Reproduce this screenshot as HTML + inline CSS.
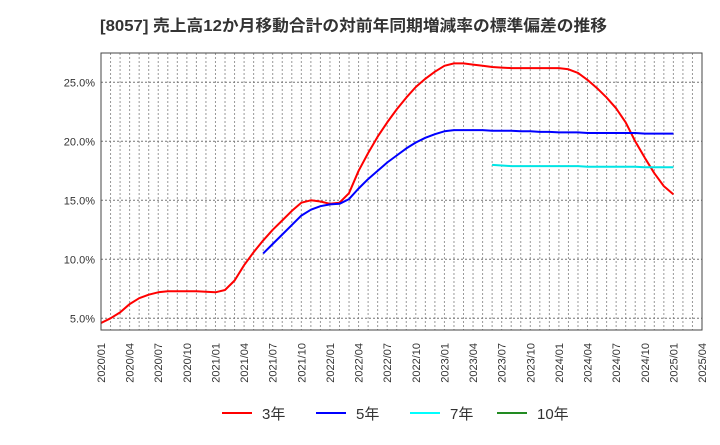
<!DOCTYPE html>
<html><head><meta charset="utf-8"><style>
body{margin:0;background:#fff;}
svg text{font-family:"Liberation Sans","Noto Sans CJK JP",sans-serif;}
</style></head><body>
<svg id="chart" width="720" height="440" xmlns="http://www.w3.org/2000/svg">
<text x="100" y="31" font-size="16" font-weight="bold" fill="#333" textLength="507" lengthAdjust="spacingAndGlyphs">[8057]  売上高12か月移動合計の対前年同期増減率の標準偏差の推移</text>
<g id="grid"></g>
<g id="series"></g>
<rect x="101" y="53" width="601" height="277" fill="none" stroke="#444" stroke-width="1"/>
<g id="yaxis"></g>
<g id="xaxis"></g>
<g id="legend"></g>
</svg>
<script>
const xTickLabels = ["2020/01","2020/04","2020/07","2020/10","2021/01","2021/04","2021/07","2021/10","2022/01","2022/04","2022/07","2022/10","2023/01","2023/04","2023/07","2023/10","2024/01","2024/04","2024/07","2024/10","2025/01","2025/04"];
const yTicks = [5,10,15,20,25];
const yTickLabels = ["5.0%","10.0%","15.0%","20.0%","25.0%"];
const series3 = [4.6,5.0,5.5,6.2,6.7,7.0,7.2,7.3,7.3,7.3,7.3,7.25,7.2,7.4,8.2,9.5,10.6,11.6,12.5,13.3,14.1,14.8,15.0,14.9,14.7,14.8,15.6,17.5,19.0,20.4,21.6,22.7,23.7,24.6,25.3,25.9,26.4,26.6,26.6,26.5,26.4,26.3,26.25,26.2,26.2,26.2,26.2,26.2,26.2,26.1,25.8,25.2,24.5,23.7,22.8,21.6,20.0,18.6,17.3,16.2,15.5];
const series5 = [null,null,null,null,null,null,null,null,null,null,null,null,null,null,null,null,null,10.5,11.3,12.1,12.9,13.7,14.2,14.5,14.65,14.7,15.1,16.0,16.8,17.5,18.2,18.8,19.4,19.9,20.3,20.6,20.85,20.95,20.95,20.95,20.95,20.9,20.9,20.9,20.85,20.85,20.8,20.8,20.75,20.75,20.75,20.7,20.7,20.7,20.7,20.7,20.7,20.65,20.65,20.65,20.65];
const series7 = [null,null,null,null,null,null,null,null,null,null,null,null,null,null,null,null,null,null,null,null,null,null,null,null,null,null,null,null,null,null,null,null,null,null,null,null,null,null,null,null,null,18.0,17.95,17.9,17.9,17.9,17.9,17.9,17.9,17.9,17.9,17.85,17.85,17.85,17.85,17.85,17.85,17.8,17.8,17.8,17.8];
const series10 = [];
const NS="http://www.w3.org/2000/svg";
const X0=101,X1=702,Y0=53,Y1=330,NM=63;
const xs=m=>X0+(X1-X0)*m/NM;
const ys=v=>377.3-v*11.8;
function mk(t,a,p){const e=document.createElementNS(NS,t);for(const k in a)e.setAttribute(k,a[k]);p.appendChild(e);return e;}
const grid=document.getElementById('grid');
for(let m=1;m<NM;m++){const l=mk('line',{x1:xs(m),x2:xs(m),y1:Y0,y2:Y1,stroke:'#999','stroke-dasharray':'2,2','stroke-width':1},grid);

}
yTicks.forEach(v=>{const l=mk('line',{x1:X0,x2:X1,y1:ys(v),y2:ys(v),stroke:'#777','stroke-dasharray':'2,2','stroke-width':1},grid);

});
const ya=document.getElementById('yaxis');
yTicks.forEach((v,i)=>{const t=mk('text',{x:95,y:ys(v)+4,'text-anchor':'end','font-size':11,fill:'#333'},ya);t.textContent=yTickLabels[i];

});
const xa=document.getElementById('xaxis');
xTickLabels.forEach((s,i)=>{const x=xs(i*3);const t=mk('text',{x:0,y:0,transform:`translate(${x+4},343) rotate(-90)`,'text-anchor':'end','font-size':11,fill:'#333'},xa);t.textContent=s;

});
const sg=document.getElementById('series');
function draw(arr,color,name){let d='';let pen=false;arr.forEach((v,i)=>{if(v==null){pen=false;return;}d+=(pen?'L':'M')+xs(i).toFixed(1)+','+ys(v).toFixed(1);pen=true;});
if(!d)return;const p=mk('path',{d:d,fill:'none',stroke:color,'stroke-width':2,'stroke-linejoin':'round'},sg);

}
draw(series3,'#ff0000','line-3y');
draw(series5,'#0000ff','line-5y');
draw(series7,'#00e5e5','line-7y');
draw(series10,'#228b22','line-10y');
const lg=document.getElementById('legend');
[['3年','#ff0000',222],['5年','#0000ff',316],['7年','#00ffff',410],['10年','#228b22',497]].forEach(([s,c,x])=>{
const g=mk('g',{},lg);


mk('line',{x1:x,x2:x+30,y1:413,y2:413,stroke:c,'stroke-width':2},g);
const t=mk('text',{x:x+40,y:419,'font-size':15,fill:'#333'},g);t.textContent=s;});
</script>
</body></html>
